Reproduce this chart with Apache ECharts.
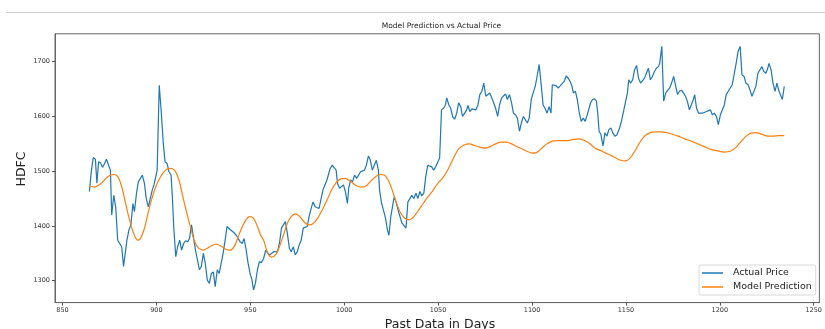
<!DOCTYPE html>
<html>
<head>
<meta charset="utf-8">
<script src="https://cdn.jsdelivr.net/npm/echarts@6/dist/echarts.min.js"></script>
<style>
html,body{margin:0;padding:0;background:#fff;}
#chart{width:825px;height:329px;}
</style>
</head>
<body>
<div id="chart"></div>
<script>
// ---- Data ----
const chartTitle = "Model Prediction vs Actual Price";
const xAxisLabel = "Past Data in Days";
const yAxisLabel = "HDFC";
const seriesNames = ["Actual Price", "Model Prediction"];
const xTicks = [850, 900, 950, 1000, 1050, 1100, 1150, 1200, 1250];
const yTicks = [1300, 1400, 1500, 1600, 1700];

const actualDays = [864.3,865.4,866.4,867.5,868.3,869.2,870.3,871.3,872.4,873.4,874.5,875.5,876.2,877.3,878.3,879.4,880.4,881.5,882.5,883.3,884.3,885.4,886.4,887.5,888.3,889.4,890.4,891.5,892.5,893.6,894.6,895.7,896.7,897.8,898.7,899.4,900.4,901.5,902.5,903.6,904.6,905.7,906.7,907.8,908.5,909.2,910.3,911.3,912.4,913.4,914.5,915.5,916.6,917.6,918.7,919.7,920.8,921.8,922.9,923.9,925,926,927.1,928.2,929.2,930.3,931.3,932.4,933.4,934.5,935.5,936.6,937.6,938.3,939.4,940.4,941.5,942.5,943.6,944.6,945.7,946.7,947.8,948.8,949.9,950.9,951.7,952.7,953.8,954.8,955.9,957.1,958.2,959.2,960.3,961.3,962.4,963.4,964.5,965.5,966.6,967.6,968.7,969.7,970.8,971.8,972.9,973.9,975,976,977.1,978.2,979.2,980.3,981.3,982.4,983.4,984.5,985.5,986.6,987.6,988.7,989.7,990.8,991.5,992.5,993.6,994.6,995.7,996.4,997.5,998.5,999.6,1000.6,1001.7,1002.4,1003.4,1004.5,1005.5,1006.6,1007.6,1008.7,1009.7,1010.8,1011.8,1012.9,1013.9,1015,1016,1017.1,1018.2,1018.8,1019.9,1020.9,1022,1023,1023.8,1024.8,1025.5,1026.6,1027.6,1028.7,1029.7,1030.8,1031.8,1032.9,1033.9,1035,1036,1037.1,1038.2,1039.2,1040.3,1041.3,1042.4,1043.4,1044.5,1045.5,1046.6,1047.6,1048.7,1049.7,1050.8,1051.8,1052.9,1053.9,1054.6,1055.7,1056.7,1057.8,1058.8,1059.9,1060.9,1062,1063,1064.1,1065.2,1065.9,1066.9,1068,1069,1070.1,1071.2,1072.2,1073.3,1074.3,1075.4,1076.4,1077.5,1078.5,1079.6,1080.6,1081.7,1082.7,1083.8,1084.8,1085.9,1086.9,1088,1089.1,1090.1,1091.2,1092.2,1093.3,1094.3,1095.4,1096.4,1097.5,1098.5,1099.6,1100.6,1101.7,1102.7,1103.8,1104.8,1105.9,1106.9,1108,1109.1,1110.1,1110.8,1111.8,1112.9,1113.9,1115,1116,1117.1,1118.2,1119.2,1120.3,1121.3,1122,1123.1,1124.1,1125.2,1126.2,1127.3,1128.3,1129.4,1130.4,1131.2,1132.2,1133.3,1134.3,1135,1135.7,1136.7,1137.8,1138.8,1139.9,1140.9,1142,1143,1144.1,1145.2,1146.6,1147.6,1148.7,1149.7,1150.8,1151.5,1152.5,1153.6,1154.6,1155.7,1156.7,1157.8,1158.8,1159.9,1160.9,1162,1163,1164.1,1165.2,1166.2,1167.3,1168,1169.1,1170.1,1171.2,1172.2,1173.3,1174.3,1175.4,1176.4,1177.5,1178.5,1179.6,1180.6,1181.7,1182.7,1183.8,1184.8,1185.9,1186.6,1187.6,1188.7,1189.7,1190.8,1191.8,1192.9,1193.9,1195,1196,1197.1,1198.2,1199.2,1200.3,1201.3,1202.4,1203.4,1204.5,1205.5,1206.6,1207.6,1208.7,1209.7,1210.8,1211.8,1212.9,1213.9,1215,1216,1217.1,1218.2,1219.2,1220.3,1221.3,1222.4,1223.4,1224.5,1225.5,1226.2,1227.3,1228.3,1229.4,1230.4,1231.5,1232.5,1233.3,1234.3];
const actualPrice = [1463,1502,1525,1522,1478,1517,1515,1507,1514,1522,1511,1502,1420,1456,1435,1374,1371,1362,1326,1329,1374,1393,1402,1441,1426,1460,1481,1487,1493,1478,1450,1435,1435,1466,1475,1472,1502,1657,1612,1554,1517,1514,1499,1493,1453,1399,1344,1362,1374,1356,1368,1373,1371,1377,1402,1380,1356,1353,1320,1326,1350,1332,1301,1295,1313,1316,1289,1320,1313,1332,1350,1374,1399,1402,1393,1396,1387,1383,1377,1371,1368,1377,1356,1332,1313,1301,1283,1295,1320,1335,1333,1341,1356,1351,1347,1347,1353,1356,1353,1368,1396,1402,1408,1387,1359,1353,1362,1347,1353,1365,1374,1396,1396,1399,1417,1432,1444,1435,1432,1432,1429,1466,1469,1484,1487,1505,1511,1511,1502,1478,1469,1472,1475,1463,1441,1469,1484,1481,1493,1487,1484,1499,1496,1502,1511,1528,1520,1502,1511,1520,1502,1466,1441,1429,1414,1393,1383,1417,1420,1453,1444,1429,1417,1405,1408,1396,1444,1450,1456,1450,1460,1450,1463,1455,1460,1490,1511,1514,1508,1502,1508,1510,1524,1612,1615,1621,1634,1621,1615,1599,1595,1606,1625,1618,1600,1606,1612,1620,1609,1614,1611,1612,1621,1640,1646,1661,1637,1634,1643,1634,1625,1615,1600,1621,1634,1631,1641,1631,1640,1625,1606,1603,1597,1573,1588,1600,1601,1588,1597,1631,1643,1655,1673,1695,1661,1621,1615,1606,1618,1606,1658,1655,1656,1652,1656,1658,1664,1674,1670,1664,1655,1643,1646,1631,1606,1591,1597,1591,1603,1600,1625,1631,1632,1628,1606,1573,1567,1546,1570,1564,1576,1579,1570,1564,1566,1579,1591,1609,1612,1643,1667,1661,1667,1685,1693,1670,1661,1664,1670,1679,1688,1667,1673,1682,1688,1691,1697,1728,1628,1643,1646,1652,1661,1673,1676,1640,1646,1648,1643,1637,1628,1612,1615,1631,1640,1615,1606,1609,1606,1603,1609,1611,1612,1603,1606,1600,1585,1603,1606,1621,1640,1646,1643,1658,1661,1697,1719,1728,1676,1673,1661,1658,1649,1637,1646,1655,1679,1682,1691,1682,1679,1688,1697,1685,1661,1646,1661,1646,1643,1631,1655];

const predDays = [864.3,867.1,870.6,874.1,877.3,879.4,881.5,883.6,885.7,887.8,889.9,891.3,893.4,895.5,897.6,899.7,902.2,904.6,907.1,909.6,912,914.1,916.2,918.3,920.4,922.5,925,928.5,931.7,934.5,937.3,939.4,941.8,944.3,947.1,949.6,951.7,953.8,955.5,957.1,959.2,961.3,963.4,965.5,967.6,969.7,971.8,973.9,976,978.5,980.9,983.4,985.8,988.3,990.8,993.3,995.7,998.2,1000.6,1003.1,1005.9,1008.7,1011.2,1013.9,1016.7,1019.2,1021.3,1023.4,1025.5,1027.6,1029.7,1032.2,1034.6,1037.1,1039.6,1042,1044.5,1046.9,1049.6,1052.5,1055.4,1058.2,1060.9,1063.8,1066.6,1069.4,1072.2,1075,1077.8,1080.6,1083.4,1086.2,1089.1,1091.8,1094.6,1097.5,1100.3,1102.4,1105.2,1108,1110.8,1113.6,1116.4,1119.2,1122,1125.2,1128,1130.8,1133.6,1136.4,1139.2,1142,1144.7,1147.3,1149.7,1152.2,1154.6,1157.1,1159.9,1162.7,1165.5,1168.3,1171.2,1174.3,1177.8,1181.3,1184.8,1188.3,1191.8,1195.3,1198.8,1202.4,1205.9,1208.7,1211.5,1214.3,1217.1,1219.9,1222.7,1225.5,1228.3,1231.2,1234.3];
const predPrice = [1473,1471,1478,1490,1494,1490,1472,1441,1411,1387,1374,1376,1393,1423,1450,1472,1490,1501,1505,1502,1484,1453,1423,1396,1371,1359,1356,1362,1367,1363,1357,1356,1365,1387,1408,1417,1414,1399,1383,1374,1351,1343,1347,1362,1383,1405,1417,1422,1418,1408,1402,1404,1414,1429,1447,1466,1479,1486,1487,1482,1475,1471,1472,1481,1490,1494,1493,1484,1466,1444,1426,1414,1411,1417,1429,1441,1453,1463,1477,1488,1504,1524,1541,1548,1550,1547,1544,1542,1545,1550,1553,1553,1550,1545,1541,1536,1533,1534,1542,1550,1555,1556,1556,1556,1558,1559,1556,1550,1542,1538,1533,1529,1524,1520,1519,1524,1536,1551,1564,1570,1572,1572,1571,1568,1564,1559,1555,1550,1545,1540,1537,1535,1537,1544,1555,1565,1570,1570,1567,1564,1564,1565,1565];

const xMin = 846, xMax = 1253, yMin = 1260, yMax = 1751;

const toPairs = (xs, ys) => xs.map((x, i) => [x, ys[i]]);

const chart = echarts.init(document.getElementById('chart'), null, {renderer: 'canvas'});
const FONT = 'DejaVu Sans';
const plainNum = v => String(v);
const option = {
  animation: false,
  backgroundColor: '#ffffff',
  grid: {left: 55, top: 33.8, width: 773, height: 268.8, show: true, borderColor: '#666', borderWidth: 1, containLabel: false},
  xAxis: {
    type: 'value', min: xMin, max: xMax,
    axisLine: {show: true, onZero: false, lineStyle: {color: '#666', width: 1}},
    axisTick: {show: true, length: 3, lineStyle: {color: '#555'}, customValues: xTicks},
    axisLabel: {show: true, margin: 4, color: '#333', fontSize: 6.5, fontFamily: FONT, customValues: xTicks, formatter: plainNum, showMinLabel: true, showMaxLabel: true},
    splitLine: {show: false}
  },
  yAxis: {
    type: 'value', min: yMin, max: yMax,
    axisLine: {show: true, onZero: false, lineStyle: {color: '#666', width: 1}},
    axisTick: {show: true, length: 3, lineStyle: {color: '#555'}, customValues: yTicks},
    axisLabel: {show: true, margin: 5, color: '#333', fontSize: 6.5, fontFamily: FONT, customValues: yTicks, formatter: plainNum},
    splitLine: {show: false}
  },
  legend: {
    show: true, orient: 'vertical', left: 699, top: 265,
    padding: [3, 4, 3, 3], itemGap: 4, itemWidth: 21, itemHeight: 1.5,
    borderColor: '#d8d8d8', borderWidth: 1, borderRadius: 2, backgroundColor: 'rgba(255,255,255,0.85)',
    textStyle: {fontFamily: FONT, fontSize: 9.5, color: '#222', padding: [0, 0, 0, 5]},
    data: [{name: seriesNames[0], icon: 'rect'}, {name: seriesNames[1], icon: 'rect'}]
  },
  series: [
    {name: seriesNames[0], type: 'line', data: toPairs(actualDays, actualPrice), showSymbol: false, symbol: 'none',
     lineStyle: {color: '#1f77b4', width: 1.2}, itemStyle: {color: '#1f77b4'}, z: 2},
    {name: seriesNames[1], type: 'line', data: toPairs(predDays, predPrice), showSymbol: false, symbol: 'none', smooth: 0.3,
     lineStyle: {color: '#ff7f0e', width: 1.2}, itemStyle: {color: '#ff7f0e'}, z: 3}
  ],
  graphic: [
    {type: 'line', shape: {x1: 6, y1: 12.5, x2: 825, y2: 12.5}, style: {stroke: '#cfcfcf', lineWidth: 1}, silent: true},
    {type: 'text', x: 441.5, y: 26, style: {text: chartTitle, font: '7.5px "DejaVu Sans"', fill: '#222', align: 'center', verticalAlign: 'middle'}},
    {type: 'text', x: 22, y: 169, rotation: Math.PI / 2, style: {text: yAxisLabel, font: '12.5px "DejaVu Sans"', fill: '#222', align: 'center', verticalAlign: 'middle'}},
    {type: 'text', x: 440, y: 325, style: {text: xAxisLabel, font: '12.5px "DejaVu Sans"', fill: '#222', align: 'center', verticalAlign: 'middle'}}
  ]
};
chart.setOption(option);
</script>
</body>
</html>
